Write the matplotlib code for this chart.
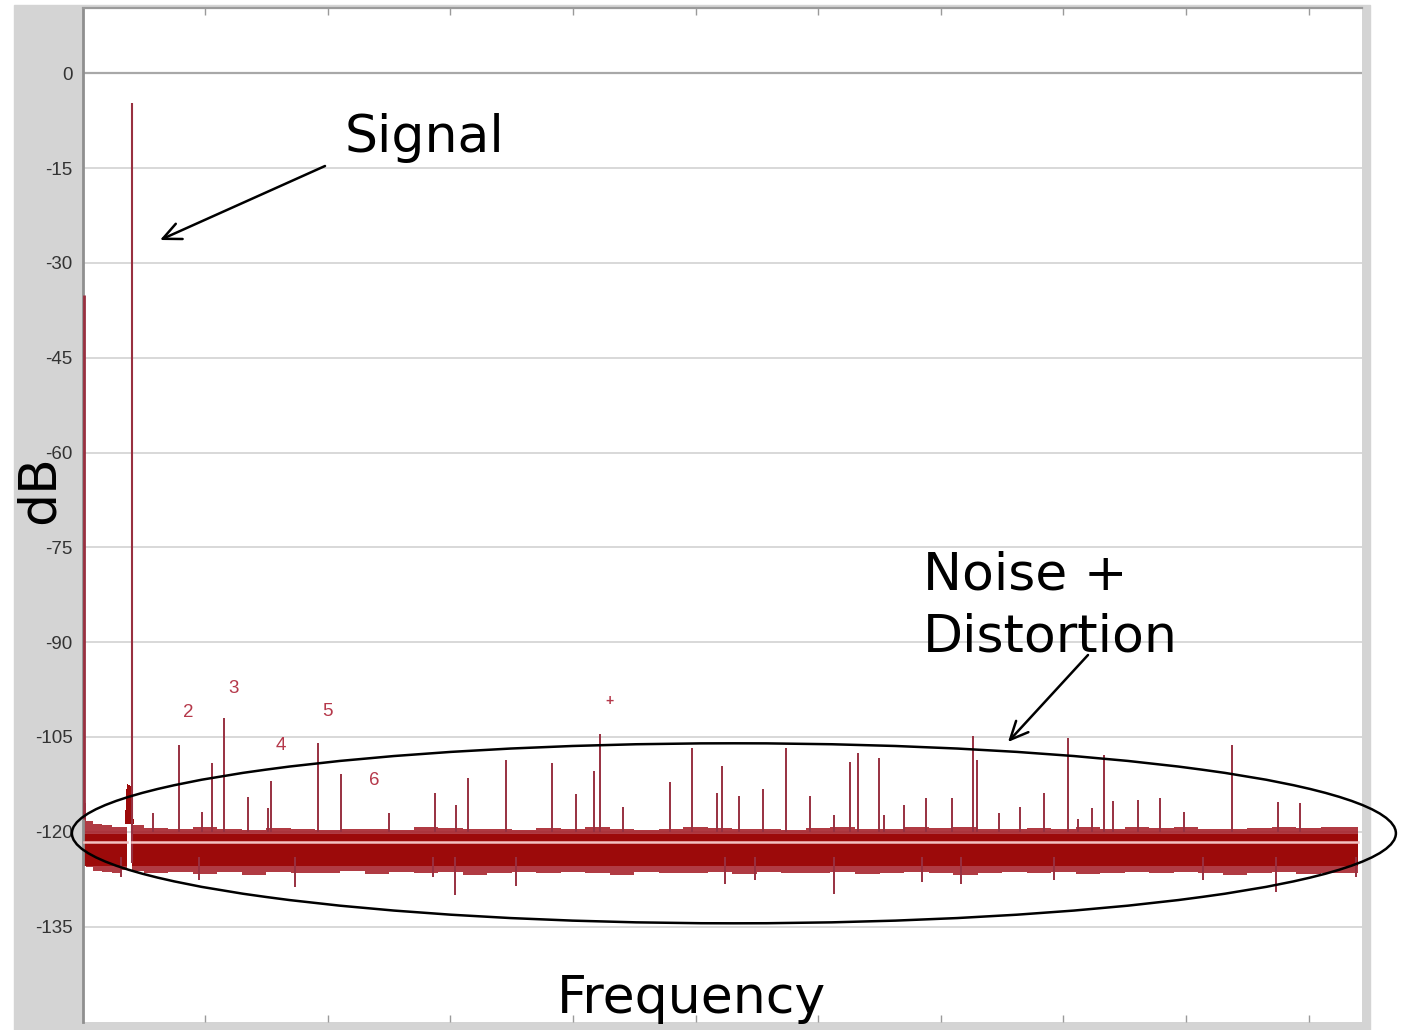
import numpy as np
import matplotlib.pyplot as plt
from matplotlib.patches import Ellipse, FancyArrowPatch, Rectangle

W, H = 1404, 1030

# spectrum values, frequency in kHz, level in dB
dc_f, dc_db = 0.02, -35.1
signal_f, signal_db = 0.80, -4.7

# noise floor envelope, part before the signal and part after it
band_a_f = [0.03, 0.10, 0.25, 0.40, 0.55, 0.72]
band_a_hi = [-115.5, -118.3, -118.8, -119.0, -119.2, -119.3]
band_a_lo = [-125.0, -125.6, -126.2, -126.4, -126.6, -126.0]

band_b_f = [0.81, 1.2, 1.6, 2.0, 2.4, 2.8, 3.2, 3.6, 4.0, 4.4, 4.8, 5.2, 5.6,
            6.0, 6.4, 6.8, 7.2, 7.6, 8.0, 8.4, 8.8, 9.2, 9.6, 10.0, 10.4,
            10.8, 11.2, 11.6, 12.0, 12.4, 12.8, 13.2, 13.6, 14.0, 14.4, 14.8,
            15.2, 15.6, 16.0, 16.4, 16.8, 17.2, 17.6, 18.0, 18.4, 18.8, 19.2,
            19.6, 20.0, 20.4, 20.80]
band_b_hi = [-119.0, -119.4, -119.6, -119.3, -119.5, -119.7, -119.4, -119.6,
             -119.8, -119.5, -119.6, -119.7, -119.3, -119.4, -119.6, -119.5,
             -119.8, -119.4, -119.5, -119.2, -119.6, -119.7, -119.5, -119.3,
             -119.4, -119.6, -119.5, -119.7, -119.4, -119.3, -119.6, -119.5,
             -119.2, -119.4, -119.3, -119.6, -119.5, -119.4, -119.6, -119.3,
             -119.5, -119.2, -119.4, -119.3, -119.5, -119.6, -119.4, -119.3,
             -119.4, -119.2, -119.3]
band_b_lo = [-126.2, -126.5, -126.3, -126.7, -126.4, -126.8, -126.3, -126.6,
             -126.5, -126.2, -126.7, -126.4, -126.6, -126.3, -126.9, -126.5,
             -126.4, -126.6, -126.3, -126.5, -126.8, -126.4, -126.6, -126.5,
             -126.3, -126.7, -126.4, -126.5, -126.6, -126.3, -126.7, -126.5,
             -126.4, -126.6, -126.8, -126.5, -126.3, -126.6, -126.4, -126.7,
             -126.5, -126.3, -126.6, -126.4, -126.5, -126.8, -126.6, -126.4,
             -126.7, -126.5, -126.6]
core_top, core_bottom = -120.3, -125.4
floor_mid = -121.6

# skirt at the foot of the signal
skirt_f = [0.70, 0.72, 0.74, 0.76, 0.78, 0.80, 0.82, 0.84]
skirt_db = [-116.5, -113.2, -112.4, -112.6, -112.8, -112.6, -113.5, -118.0]

# spurs above the floor
spur_f = [1.157, 1.576, 1.956, 2.108, 2.310, 2.694, 3.027, 3.081, 3.847,
          4.210, 5.004, 5.742, 6.096, 6.280, 6.900, 7.666, 8.052, 8.346,
          8.443, 8.823, 9.589, 9.948, 10.355, 10.427, 10.709, 11.100, 11.480,
          11.866, 12.258, 12.523, 12.644, 12.991, 13.077, 13.403, 13.757,
          14.181, 14.528, 14.593, 14.947, 15.294, 15.685, 16.077, 16.240,
          16.458, 16.663, 16.810, 17.224, 17.583, 17.967, 18.756, 19.506,
          19.865]
spur_db = [-117.0, -106.3, -116.8, -109.1, -102.0, -114.5, -116.3, -112.0,
           -106.0, -110.9, -117.0, -113.8, -115.8, -111.5, -108.7, -109.2,
           -114.0, -110.4, -104.5, -116.1, -112.2, -106.8, -113.8, -109.6,
           -114.4, -113.2, -106.8, -114.4, -117.4, -108.9, -107.6, -108.4,
           -117.4, -115.8, -114.6, -114.7, -104.9, -108.7, -117.1, -116.1,
           -113.8, -105.2, -118.0, -116.2, -107.9, -115.1, -115.0, -114.7,
           -116.8, -106.3, -115.3, -115.4]

# dips below the floor
dip_f = [0.636, 1.896, 3.472, 5.710, 6.068, 7.074, 10.481, 10.970, 12.258,
         13.687, 14.328, 15.844, 18.277, 19.474, 20.766]
dip_db = [-127.1, -127.6, -128.7, -127.1, -130.0, -128.6, -128.2, -127.6,
          -129.8, -127.9, -128.2, -127.6, -127.6, -129.5, -127.1]

# harmonic markers
harm_text = ['2', '3', '4', '5', '6', '+']
harm_f = [1.723, 2.461, 3.228, 3.998, 4.765, 8.590]
harm_db = [-101.2, -97.3, -106.4, -100.9, -111.9, -99.3]

y_ticks = [0, -15, -30, -45, -60, -75, -90, -105, -120, -135]
x_ticks = [2, 4, 6, 8, 10, 12, 14, 16, 18, 20]

red = '#9c0a0a'
spur_red = '#983040'


def px(x, y):
    return x / W, 1 - y / H


fig = plt.figure(figsize=(W / 100, H / 100), dpi=100)
fig.patch.set_facecolor('white')

# grey panel behind the plot
fig.add_artist(Rectangle((14 / W, 0), (1370 - 14) / W, (H - 5) / H,
                         transform=fig.transFigure, color='#d4d4d4', zorder=-5))

ax = fig.add_axes([82.5 / W, 1 - 1022 / H, (1362 - 82.5) / W, (1022 - 8) / H])
ax.set_facecolor('white')
ax.set_xlim(0, 20.87)
ax.set_ylim(-150.1, 10.33)

for v in y_ticks:
    if v == 0:
        ax.axhline(v, color='#a8a8a8', lw=1.6, zorder=1)
    else:
        ax.axhline(v, color='#d6d6d6', lw=1.3, zorder=1)

# noise floor: ragged outer envelope, then the dense core
for f, lo, hi in [(band_a_f, band_a_lo, band_a_hi), (band_b_f, band_b_lo, band_b_hi)]:
    ax.fill_between(f, lo, hi, step='mid', color='#a31822', alpha=0.85, lw=0, zorder=2)
    ax.fill_between([f[0], f[-1]], core_bottom, core_top, color=red, lw=0, zorder=2)
ax.fill_between(skirt_f, -118.8, skirt_db, step='mid', color=red, lw=0, zorder=2)

ax.vlines(spur_f, -120, spur_db, color=spur_red, lw=1.4, zorder=3)
ax.vlines(dip_f, dip_db, -124, color=spur_red, lw=1.4, zorder=3)

ax.vlines([dc_f], -118, dc_db, color=spur_red, lw=2.0, zorder=3)
ax.vlines([signal_f], -125, signal_db, color=spur_red, lw=1.5, zorder=3)

ax.plot([band_a_f[0], band_a_f[-1]], [floor_mid, floor_mid], color='#f3c2c2', lw=1.8, zorder=4)
ax.plot([band_b_f[0], band_b_f[-1]], [floor_mid, floor_mid], color='#f3c2c2', lw=1.8, zorder=4)

for t, f, d in zip(harm_text, harm_f, harm_db):
    ax.text(f, d, t, color='#b5384a', fontsize=13.5 if t != '+' else 10,
            fontweight='normal' if t != '+' else 'bold',
            family='Liberation Sans', ha='center', va='center', zorder=5)

ax.set_yticks(y_ticks)
ax.set_yticklabels([str(v) for v in y_ticks], family='Liberation Sans',
                   fontsize=13.5, color='#333333')
ax.set_xticks(x_ticks)
ax.tick_params(axis='y', length=0, pad=7)
ax.tick_params(axis='x', direction='in', top=True, bottom=True, length=5,
               width=1, color='#9a9a9a', labelbottom=False)

ax.spines['top'].set_color('#9a9a9a')
ax.spines['top'].set_linewidth(1.6)
ax.spines['left'].set_color('#8f8f8f')
ax.spines['left'].set_linewidth(2.0)
ax.spines['right'].set_visible(False)
ax.spines['bottom'].set_visible(False)

# annotations on top of the figure
big = dict(fontsize=37.5, family='DejaVu Sans', color='black')
fig.text(*px(345, 152), 'Signal', ha='left', va='baseline', **big)
fig.text(*px(923, 589), 'Noise +', ha='left', va='baseline', **big)
fig.text(*px(923, 652), 'Distortion', ha='left', va='baseline', **big)
fig.text(*px(691, 1013), 'Frequency', ha='center', va='baseline', **big)
fig.text(*px(40, 490), 'dB', ha='center', va='center', rotation=90, **big)

for tail, head in [((325, 166), (160, 240)), ((1088, 655), (1008, 742))]:
    fig.add_artist(FancyArrowPatch(px(*tail), px(*head), transform=fig.transFigure,
                                   arrowstyle='->,head_length=13,head_width=6',
                                   mutation_scale=1, lw=1.8, color='black',
                                   shrinkA=0, shrinkB=0, zorder=6))

fig.add_artist(Ellipse(px(733.9, 833.3), 1324 / W, 180 / H, transform=fig.transFigure,
                       fill=False, ec='black', lw=1.8, zorder=6))

fig.savefig('out.png', dpi=100)
